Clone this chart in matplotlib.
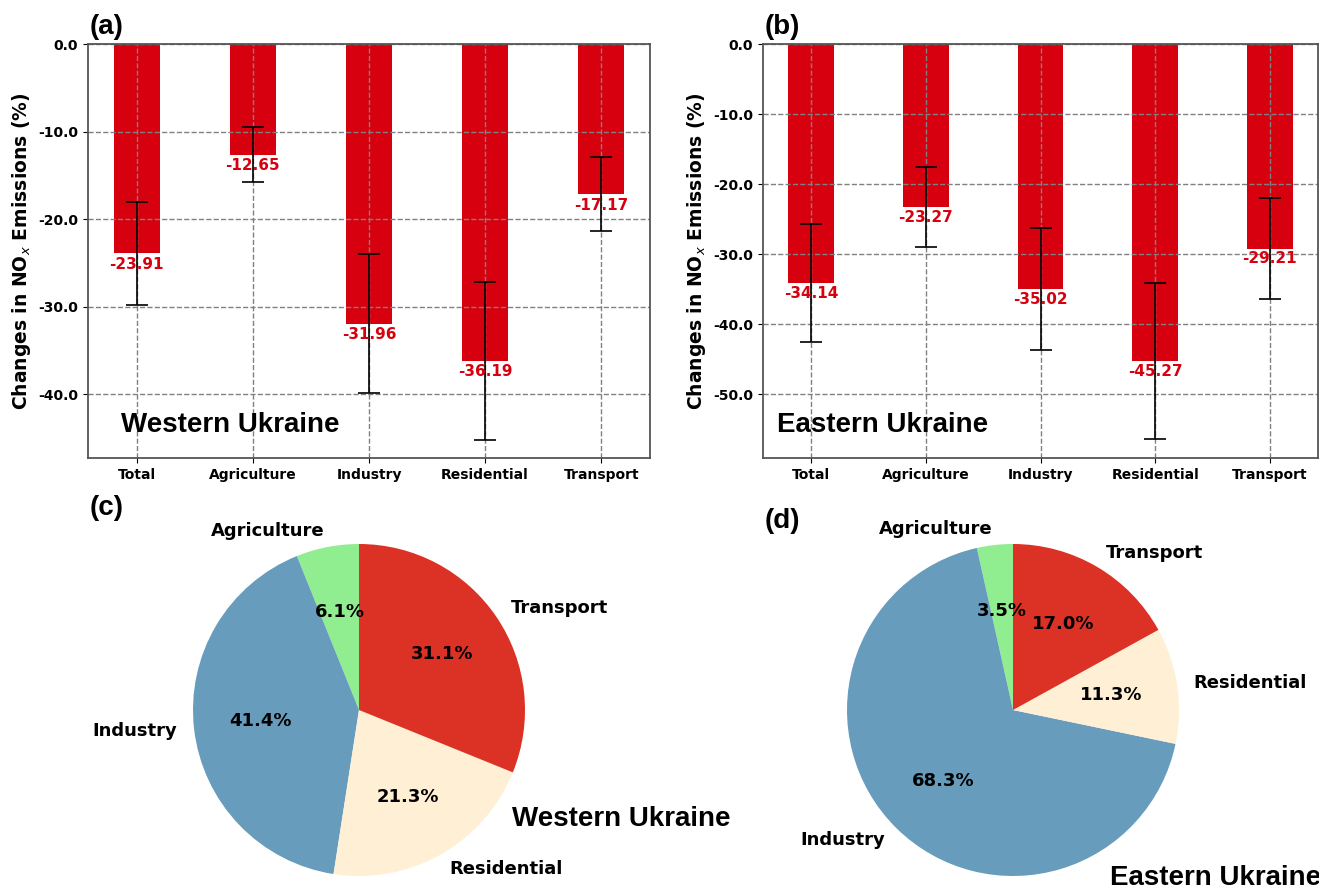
import numpy as np
import matplotlib
matplotlib.use("Agg")
import matplotlib.pyplot as plt

sectors = ["Total", "Agriculture", "Industry", "Residential", "Transport"]

west_change = [-23.91, -12.65, -31.96, -36.19, -17.17]
west_err = [5.9, 3.15, 7.95, 9.0, 4.25]
east_change = [-34.14, -23.27, -35.02, -45.27, -29.21]
east_err = [8.45, 5.75, 8.7, 11.15, 7.25]

pie_labels = ["Agriculture", "Industry", "Residential", "Transport"]
west_share = [6.1, 41.4, 21.3, 31.1]
east_share = [3.5, 68.3, 11.3, 17.0]
pie_colors = ["#90ee90", "#679cbd", "#feefd5", "#dc3125"]

W, H = 1319, 891
fig = plt.figure(figsize=(W / 100, H / 100), dpi=100)


def px_axes(left, top, right, bottom):
    return fig.add_axes([left / W, 1 - bottom / H, (right - left) / W, (bottom - top) / H])


def bar_panel(ax, vals, errs, ylim, ticks, region, tx):
    x = np.arange(len(sectors))
    ax.bar(x, vals, 0.4, color="#d7000f", yerr=errs, capsize=8,
           error_kw=dict(ecolor="black", elinewidth=1.2, capthick=1.2))
    for xi, v in zip(x, vals):
        ax.text(xi, v - 0.4, f"{v:.2f}", ha="center", va="top", color="#d7000f",
                fontsize=11, fontweight="bold")
    ax.set_ylim(ylim, 0)
    ax.set_xlim(-0.42, 4.42)
    ax.set_yticks(ticks)
    ax.set_yticklabels([f"{t:.1f}" for t in ticks], fontsize=10, fontweight="bold")
    ax.set_xticks(x)
    ax.set_xticklabels(sectors, fontsize=10, fontweight="bold")
    ax.set_ylabel("Changes in NO$_x$ Emissions (%)", fontsize=13.5, fontweight="bold")
    ax.grid(True, linestyle="--", color="gray", linewidth=1)
    for s in ax.spines.values():
        s.set_color("#555555")
        s.set_linewidth(1.3)
    ax.text(tx, 0.063, region, transform=ax.transAxes,
            fontsize=20, fontweight="bold", family="Liberation Sans", va="baseline")


ax_a = px_axes(88, 44, 650, 458)
bar_panel(ax_a, west_change, west_err, -47.3, [0, -10, -20, -30, -40], "Western Ukraine", 0.059)
ax_b = px_axes(763, 44, 1318, 458)
bar_panel(ax_b, east_change, east_err, -59.1, [0, -10, -20, -30, -40, -50], "Eastern Ukraine", 0.025)


def pie_panel(cx, cy, shares):
    side = 415
    total = sum(shares)
    ax = px_axes(cx - side / 2, cy - side / 2, cx + side / 2, cy + side / 2)
    ax.pie(shares, labels=pie_labels, colors=pie_colors, startangle=90,
           autopct=lambda p: f"{p * total / 100:.1f}%",
           textprops=dict(fontsize=13, fontweight="bold"))
    ax.set_xlim(-1.25, 1.25)
    ax.set_ylim(-1.25, 1.25)
    return ax


pie_panel(359, 710, west_share)
pie_panel(1013, 710, east_share)

fig.text(512 / W, 1 - 826 / H, "Western Ukraine", fontsize=20, fontweight="bold",
         family="Liberation Sans", va="baseline")
fig.text(1110 / W, 1 - 885 / H, "Eastern Ukraine", fontsize=20, fontweight="bold",
         family="Liberation Sans", va="baseline")

for lbl, x, y in [("(a)", 90, 34), ("(b)", 765, 34), ("(c)", 90, 515), ("(d)", 765, 528)]:
    fig.text(x / W, 1 - y / H, lbl, fontsize=20, fontweight="bold",
             family="Liberation Sans", va="baseline")

fig.savefig("out.png", dpi=100)
